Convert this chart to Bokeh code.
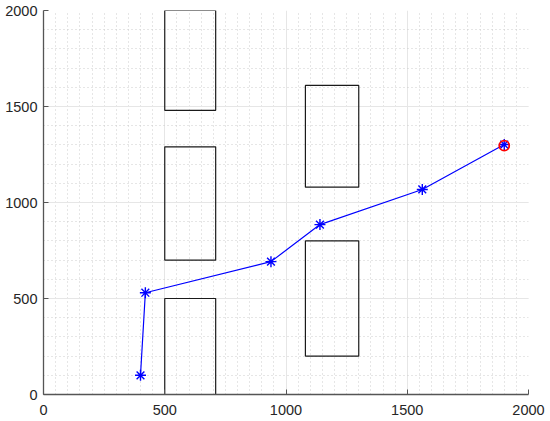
from bokeh.plotting import figure
from bokeh.models import Range1d, SingleIntervalTicker
from bokeh.embed import file_html
from bokeh.resources import INLINE

# Obstacles (rectangles): left, right, bottom, top
rect_left = [500, 500, 500, 1080, 1080]
rect_right = [710, 710, 710, 1300, 1300]
rect_bottom = [0, 700, 1480, 200, 1080]
rect_top = [500, 1290, 2000, 800, 1610]

# Path waypoints
path_x = [400, 420, 938, 1140, 1562, 1900]
path_y = [100, 530, 692, 885, 1068, 1302]

# Goal
goal_x = [1900]
goal_y = [1296]

p = figure(width=550, height=421, output_backend="svg", toolbar_location=None,
           x_range=Range1d(0, 2000), y_range=Range1d(0, 2000),
           min_border_left=43, min_border_right=22, min_border_top=10, min_border_bottom=27)
p.outline_line_color = None
p.background_fill_color = "white"

xt = SingleIntervalTicker(interval=500, num_minor_ticks=10)
yt = SingleIntervalTicker(interval=500, num_minor_ticks=5)
p.xaxis.ticker = xt
p.yaxis.ticker = yt
p.xgrid.ticker = xt
p.ygrid.ticker = yt

for ax in (p.xaxis[0], p.yaxis[0]):
    ax.axis_line_color = "#555555"
    ax.axis_line_width = 1.3
    ax.major_tick_in = 5
    ax.major_tick_out = 0
    ax.major_tick_line_color = "#555555"
    ax.minor_tick_in = 0
    ax.minor_tick_out = 0
    ax.major_label_text_font = "Liberation Sans"
    ax.major_label_text_font_size = "14.5px"
    ax.major_label_text_color = "#262626"
p.xaxis.major_label_standoff = 10
p.yaxis.major_label_standoff = 6

for g in (p.xgrid[0], p.ygrid[0]):
    g.grid_line_color = "#e6e6e6"
    g.grid_line_width = 1
    g.minor_grid_line_color = "#cccccc"
    g.minor_grid_line_dash = "1 3"
    g.minor_grid_line_width = 1

p.quad(left=rect_left, right=rect_right, bottom=rect_bottom, top=rect_top,
       fill_color=None, line_color="#1a1a1a", line_width=1.2)

p.line(path_x, path_y, line_color="#0000ff", line_width=1.2)
p.scatter(path_x, path_y, marker="asterisk", size=11, line_color="#0000ff", line_width=1.4)
p.scatter(goal_x, goal_y, marker="circle", size=10, fill_color=None, line_color="#ff0000", line_width=1.8)

open("out.html", "w").write(file_html(p, INLINE))
